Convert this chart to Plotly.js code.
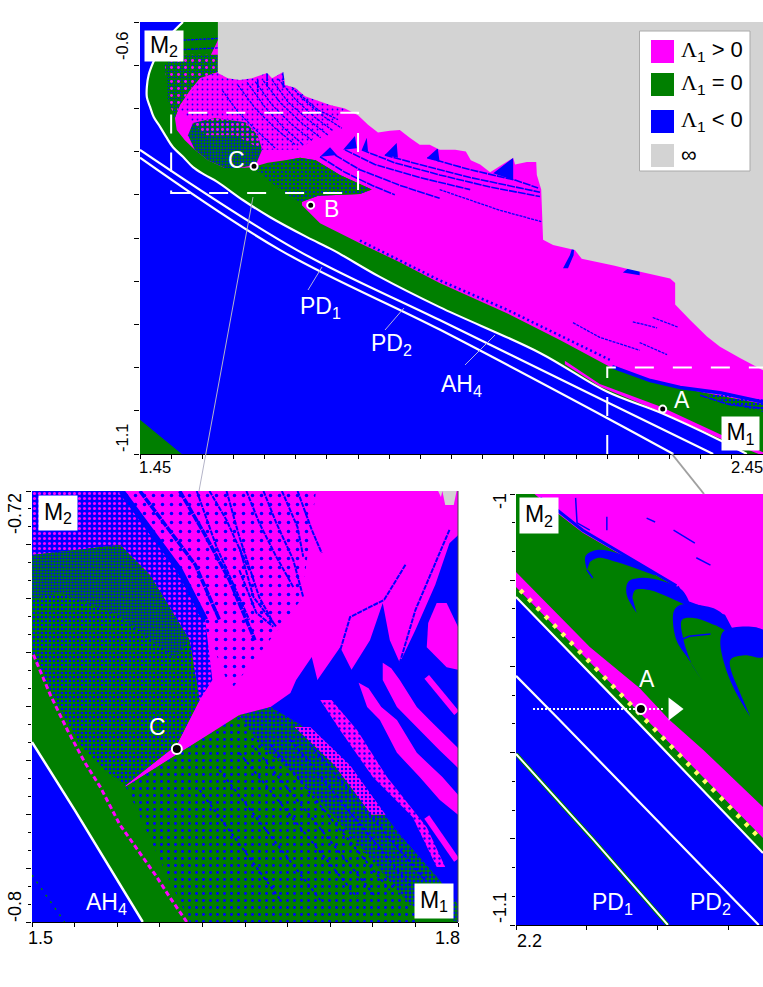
<!DOCTYPE html>
<html>
<head>
<meta charset="utf-8">
<script src="https://cdn.plot.ly/plotly-3.0.1.min.js"></script>
<style>body{margin:0;background:#fff}</style>
</head>
<body>
<div id="plot_window" style="width:763px;height:987px"></div>
<script>
const MAGENTA = '#ff00ff', GREEN = '#007f00', BLUE = '#0000ff', GREY = '#d3d3d3', WHITE = '#ffffff', CLEAR = 'rgba(0,0,0,0)';

// ---- top panel, M1 against M2, boundaries ----
const ah4TopX = [1.519,1.501,1.490,1.479,1.471,1.464,1.461,1.461,1.466,1.472,1.482,1.492,1.503,1.519,1.535,1.554,1.574,1.615,1.659,1.718,1.760,1.835,1.931,2.092,2.200,2.285,2.381,2.424];
const ah4TopY = [-0.6,-0.613,-0.623,-0.635,-0.647,-0.661,-0.675,-0.687,-0.698,-0.710,-0.721,-0.733,-0.745,-0.756,-0.768,-0.777,-0.785,-0.806,-0.826,-0.849,-0.864,-0.895,-0.930,-0.983,-1.028,-1.052,-1.084,-1.1];
const pd2TopX = [1.45,1.702,1.931,2.2,2.370];
const pd2TopY = [-0.748,-0.864,-0.945,-1.040,-1.1];
const pd1TopX = [1.45,1.675,1.931,2.204,2.306];
const pd1TopY = [-0.757,-0.864,-0.956,-1.060,-1.1];
const cornerTopX = [1.45,1.517,1.45];
const cornerTopY = [-1.0605,-1.1,-1.1];
const infTopX = [1.575,1.575,1.591,1.610,1.630,1.646,1.654,1.662,1.680,1.683,1.699,1.715,1.731,1.755,1.779,1.800,1.816,1.832,1.851,1.867,1.883,1.899,1.915,1.931,1.956,1.973,1.981,1.996,2.012,2.049,2.052,2.071,2.086,2.087,2.094,2.097,2.113,2.148,2.159,2.188,2.212,2.228,2.252,2.277,2.301,2.309,2.309,2.333,2.360,2.381,2.413,2.45,2.45];
const infTopY = [-0.6,-0.659,-0.665,-0.667,-0.665,-0.661,-0.659,-0.665,-0.658,-0.673,-0.676,-0.686,-0.690,-0.696,-0.700,-0.708,-0.719,-0.728,-0.726,-0.725,-0.734,-0.742,-0.742,-0.748,-0.748,-0.750,-0.760,-0.765,-0.774,-0.757,-0.765,-0.762,-0.762,-0.777,-0.794,-0.852,-0.858,-0.864,-0.874,-0.878,-0.882,-0.885,-0.889,-0.893,-0.897,-0.902,-0.927,-0.945,-0.964,-0.976,-0.989,-1.003,-0.6];
const chaosTopX = [1.575,2.45,2.45,2.397,2.349,2.305,2.252,2.204,2.124,2.039,1.931,1.867,1.803,1.739,1.710,1.710,1.736,1.803,1.822,1.771,1.732,1.707,1.683,1.655,1.631,1.610,1.586,1.559,1.538,1.522,1.509,1.506,1.514,1.530,1.546];
const chaosTopY = [-0.621,-0.621,-1.042,-1.035,-1.028,-1.022,-1.010,-0.999,-0.968,-0.937,-0.902,-0.878,-0.856,-0.833,-0.812,-0.808,-0.801,-0.799,-0.794,-0.777,-0.760,-0.757,-0.760,-0.763,-0.768,-0.769,-0.769,-0.760,-0.748,-0.737,-0.725,-0.711,-0.696,-0.679,-0.665];
const sliverTopX = [2.132,2.188,2.285,2.381,2.45,2.45,2.381,2.285,2.188,2.132];
const sliverTopY = [-0.992,-1.019,-1.045,-1.077,-1.098,-1.102,-1.082,-1.051,-1.022,-0.996];
// speckled patches
const speckNearCX = [1.535,1.570,1.619,1.639,1.646,1.636,1.610,1.586,1.559,1.538,1.527];
const speckNearCY = [-0.717,-0.711,-0.716,-0.731,-0.748,-0.765,-0.769,-0.769,-0.760,-0.748,-0.731];
const speckNearCUpX = [1.535,1.570,1.619,1.639,1.646,1.603,1.555];
const speckNearCUpY = [-0.717,-0.711,-0.716,-0.731,-0.748,-0.731,-0.731];
const speckLeftX = [1.490,1.511,1.575,1.575,1.546,1.530,1.514,1.506,1.495];
const speckLeftY = [-0.650,-0.638,-0.638,-0.658,-0.665,-0.679,-0.696,-0.711,-0.690];
const speckChaosX = [1.546,1.575,1.680,1.715,1.779,1.755,1.707,1.646,1.639,1.619,1.570,1.535,1.514];
const speckChaosY = [-0.665,-0.658,-0.658,-0.686,-0.700,-0.719,-0.748,-0.748,-0.731,-0.716,-0.711,-0.717,-0.702];
const speckBelowCX = [1.631,1.683,1.707,1.732,1.771,1.822,1.803,1.736,1.710,1.699,1.659];
const speckBelowCY = [-0.768,-0.760,-0.757,-0.760,-0.777,-0.794,-0.799,-0.801,-0.808,-0.806,-0.785];
const speckFringeX = [2.349,2.45,2.45,2.397];
const speckFringeY = [-1.028,-1.037,-1.051,-1.042];
// blue periodic windows
const finsTopX = [1.755,1.739,1.766,null,1.795,1.776,1.798,null,1.862,1.843,1.864,null,1.928,1.911,1.931,null,2.049,2.017,2.049,null,1.814,1.806,1.816,null,2.148,2.140,2.129,2.137,2.146,null,2.252,2.225,2.252];
const finsTopY = [-0.745,-0.756,-0.754,null,-0.732,-0.748,-0.746,null,-0.740,-0.754,-0.757,null,-0.746,-0.757,-0.762,null,-0.757,-0.775,-0.783,null,-0.734,-0.748,-0.750,null,-0.852,-0.870,-0.885,-0.885,-0.870,null,-0.875,-0.890,-0.893];
const bandsTopX = [1.739,1.779,1.822,1.859,null,1.763,1.803,1.867,1.931,null,1.779,1.827,1.899,1.980,null,1.806,1.859,1.931,2.012,2.092,null,1.843,1.899,1.980,2.092,null,1.911,1.980,2.052,2.089,null,2.349,2.397,2.45,null,1.654,1.654,null,1.680,1.680,null,1.639,1.639];
const bandsTopY = [-0.756,-0.774,-0.789,-0.800,null,-0.754,-0.771,-0.789,-0.804,null,-0.748,-0.765,-0.780,-0.794,null,-0.748,-0.763,-0.777,-0.791,-0.802,null,-0.754,-0.765,-0.780,-0.797,null,-0.757,-0.771,-0.783,-0.792,null,-1.032,-1.043,-1.047,null,-0.659,-0.675,null,-0.658,-0.676,null,-0.667,-0.681];
const fringeTopX = [2.208,2.269,2.317,2.381,2.45];
const fringeTopY = [-0.999,-1.015,-1.023,-1.029,-1.040];
const edgeDotsTopX = [1.803,1.931,2.039,2.204];
const edgeDotsTopY = [-0.853,-0.899,-0.933,-0.991];
const streaksTopX = [1.582,1.607,1.639,1.667,null,1.607,1.635,1.667,1.699,null,1.635,1.662,1.694,1.726,null,1.662,1.688,1.720,1.752,null,1.681,1.710,1.742,1.774,null,1.707,1.736,1.768,null,1.622,1.650,1.680,1.712,null,1.648,1.676,1.708,1.740,null,1.672,1.700,1.730,1.760,null,1.519,1.575,null,1.519,1.575,null,1.931,2.028,2.094,null,2.145,2.188,2.252,null,2.241,2.280,null,2.273,2.313,null,2.252,2.296];
const streaksTopY = [-0.679,-0.704,-0.727,-0.746,null,-0.673,-0.700,-0.723,-0.742,null,-0.669,-0.696,-0.719,-0.737,null,-0.667,-0.693,-0.713,-0.731,null,-0.665,-0.688,-0.708,-0.723,null,-0.684,-0.702,-0.713,null,-0.670,-0.698,-0.722,-0.742,null,-0.668,-0.694,-0.716,-0.734,null,-0.666,-0.690,-0.710,-0.726,null,-0.621,-0.619,null,-0.632,-0.630,null,-0.794,-0.818,-0.831,null,-0.948,-0.965,-0.980,null,-0.947,-0.954,null,-0.942,-0.953,null,-0.971,-0.985];
const pointsTopX = [2.289,1.724,1.633];
const pointsTopY = [-1.048,-0.812,-0.767];

// ---- lower left panel ----
const ah4LeftX = [1.5,1.530,1.578];
const ah4LeftY = [-0.7666,-0.7792,-0.8];
const chaosLeftX = [1.566,1.604,1.642,1.668,1.8,1.8,1.5,1.5,1.562,1.583,1.611,1.618,1.602,1.566];
const chaosLeftY = [-0.7749,-0.7686,-0.7625,-0.7601,-0.7601,-0.72,-0.72,-0.7319,-0.73,-0.7356,-0.7477,-0.7588,-0.7671,-0.7746];
const windowLeftX = [1.668,1.682,1.686,1.697,1.701,1.717,1.725,1.738,1.747,1.752,1.759,1.770,1.784,1.794,1.8,1.8,1.787,1.759,1.724,1.689];
const windowLeftY = [-0.7601,-0.7575,-0.7551,-0.7508,-0.7551,-0.749,-0.7532,-0.7477,-0.7408,-0.7477,-0.7519,-0.7458,-0.7374,-0.7297,-0.7282,-0.7968,-0.7922,-0.7838,-0.7718,-0.7634];
const speckTopLeftX = [1.5,1.563,1.583,1.604,1.622,1.627,1.618,1.611,1.583,1.562,1.5];
const speckTopLeftY = [-0.72,-0.72,-0.7272,-0.7347,-0.7439,-0.7551,-0.7588,-0.7477,-0.7356,-0.73,-0.7319];
const speckMidLeftX = [1.5,1.562,1.583,1.611,1.618,1.602,1.566,1.551,1.534,1.520,1.5];
const speckMidLeftY = [-0.7319,-0.73,-0.7356,-0.7477,-0.7588,-0.7671,-0.7746,-0.7718,-0.7671,-0.7607,-0.7504];
const denseMidLeftX = [1.5,1.562,1.583,1.611,1.600,1.560,1.520,1.5];
const denseMidLeftY = [-0.7319,-0.73,-0.7356,-0.7477,-0.7510,-0.7430,-0.7390,-0.7400];
const speckLowLeftX = [1.566,1.604,1.646,1.660,1.689,1.724,1.766,1.773,1.611,1.590,1.573];
const speckLowLeftY = [-0.7749,-0.7686,-0.7616,-0.7671,-0.7736,-0.7838,-0.7968,-0.8,-0.8,-0.7885,-0.7786];
const speckBandLeftX = [1.646,1.668,1.689,1.724,1.759,1.787,1.8,1.8,1.766,1.724,1.689,1.660];
const speckBandLeftY = [-0.7616,-0.7601,-0.7634,-0.7718,-0.7838,-0.7922,-0.7968,-0.8,-0.7968,-0.7838,-0.7736,-0.7671];
const sparseUpperLeftX = [1.563,1.700,1.690,1.640,1.620];
const sparseUpperLeftY = [-0.72,-0.72,-0.7400,-0.7570,-0.7440];
const edgeLeftX = [1.501,1.513,1.525,1.537,1.548,1.562,1.576,1.587,1.597,1.609];
const edgeLeftY = [-0.7504,-0.7579,-0.7644,-0.7703,-0.7749,-0.782,-0.7872,-0.7913,-0.7954,-0.8];
const stripesWideX = [1.563,1.583,1.604,1.622];
const stripesWideY = [-0.72,-0.7272,-0.7347,-0.7439];
const stripesMidX = [1.576,1.594,1.615,1.632,null,1.604,1.622,1.639,1.657];
const stripesMidY = [-0.72,-0.7263,-0.7337,-0.7439,null,-0.72,-0.7282,-0.7365,-0.7477];
const stripesThinX = [1.616,1.630,1.653,null,1.625,1.637,1.653,null,1.637,1.646,1.660,1.670,null,1.651,1.660,1.672,1.684,null,1.663,1.672,1.684,1.691,null,1.676,1.687,1.691,null,1.687,1.697,1.704,null,1.646,1.656,1.672,null,1.646,1.658,1.670,null,1.794,1.770,1.759,null,1.763,1.748,1.724,1.715];
const stripesThinY = [-0.72,-0.7304,-0.7439,null,-0.72,-0.7254,-0.7347,null,-0.72,-0.7285,-0.7397,-0.7445,null,-0.72,-0.7259,-0.7322,-0.7378,null,-0.72,-0.7259,-0.7328,-0.7397,null,-0.72,-0.7267,-0.7322,null,-0.72,-0.7272,-0.7315,null,-0.7304,-0.7397,-0.7452,null,-0.7347,-0.7426,-0.7452,null,-0.7272,-0.7421,-0.7519,null,-0.7337,-0.7402,-0.7434,-0.7514];
const rowsLeftX = [1.646,1.729,null,1.632,1.703,null,1.668,1.752,null,1.682,1.766,null,1.696,1.777,null,1.657,1.741,null,1.618,1.675];
const rowsLeftY = [-0.7686,-0.7954,null,-0.7718,-0.7959,null,-0.7671,-0.7941,null,-0.7662,-0.7931,null,-0.7671,-0.7922,null,-0.7677,-0.795,null,-0.7755,-0.7959];
const bandOneX = [1.730,1.737,1.746,1.757,1.771,1.789,1.8,1.8,1.787,1.773,1.757,1.745,1.736];
const bandOneY = [-0.7556,-0.7566,-0.7601,-0.7625,-0.7686,-0.7731,-0.7764,-0.7801,-0.7773,-0.7731,-0.7686,-0.7625,-0.7601];
const bandTwoX = [1.747,1.753,1.759,1.771,1.780,1.8,1.8,1.787,1.766,1.757,1.747];
const bandTwoY = [-0.7519,-0.7529,-0.7551,-0.7601,-0.7625,-0.7677,-0.7714,-0.7681,-0.7625,-0.7601,-0.7551];
const islandLeftX = [1.785,1.792,1.8,1.8,1.792,1.778,1.779];
const islandLeftY = [-0.7408,-0.7408,-0.7452,-0.7532,-0.7527,-0.749,-0.7445];
const bandThreeX = [1.703,1.717,1.740,1.768,1.785,1.791,1.778,1.750,1.729,1.711];
const bandThreeY = [-0.7588,-0.7644,-0.7731,-0.7805,-0.7898,-0.7898,-0.7824,-0.7731,-0.7644,-0.7588];
const bandFourX = [1.685,1.713,1.739,1.749,1.724,1.696];
const bandFourY = [-0.7638,-0.7709,-0.7801,-0.7801,-0.7709,-0.7638];
const thinBandsX = [1.778,1.799,null,1.778,1.799];
const thinBandsY = [-0.7805,-0.7885,null,-0.7545,-0.7612];
const infLeftX = [1.786,1.788,1.789,1.791,1.793,1.797,1.799];
const infLeftY = [-0.72,-0.7211,-0.72,-0.7226,-0.7226,-0.7226,-0.72];
const dotsBlueLeftX = [1.5,1.523];
const dotsBlueLeftY = [-0.7913,-0.8];
const pointLeftX = [1.602];
const pointLeftY = [-0.7679];

// ---- lower right panel ----
const ah4RightX = [2.2,2.285,2.374];
const ah4RightY = [-1.0239,-1.0527,-1.0833];
const pd2RightX = [2.2,2.230,2.371];
const pd2RightY = [-1.0422,-1.0522,-1.1];
const pd1RightX = [2.2,2.254,2.307];
const pd1RightY = [-1.0603,-1.08,-1.1];
const yellowRightX = [2.203,2.287,2.373];
const yellowRightY = [-1.0223,-1.0508,-1.0803];
const chaosRightX = [2.213,2.374,2.374,2.351,2.346,2.320,2.313,2.292,2.268,2.247,2.229];
const chaosRightY = [-1,-1,-1.032,-1.0316,-1.0285,-1.0253,-1.0216,-1.0176,-1.013,-1.009,-1.0044];
const stripRightX = [2.2,2.252,2.287,2.308,2.332,2.374,2.374,2.2];
const stripRightY = [-1.0181,-1.0355,-1.0450,-1.0524,-1.0594,-1.0726,-1.0798,-1.0216];
const crescentsRightX = [2.250,2.249,2.257,2.271,2.287,2.298,2.287,2.271,2.258,2.252,null,2.285,2.278,2.279,2.287,2.301,2.317,2.322,2.308,2.294,2.284,2.282,null,2.332,2.322,2.313,2.311,2.315,2.330,2.344,2.351,2.340,2.326,2.317,2.318,2.324,null,2.365,2.354,2.347,2.344,2.347,2.374,2.374,2.361,2.351,2.354];
const crescentsRightY = [-1.0176,-1.0144,-1.013,-1.0137,-1.016,-1.0188,-1.0176,-1.0158,-1.0148,-1.0158,null,-1.0276,-1.0234,-1.0204,-1.0195,-1.02,-1.0223,-1.0258,-1.024,-1.0223,-1.0223,-1.0241,null,-1.0438,-1.0385,-1.0339,-1.0274,-1.0258,-1.0258,-1.0274,-1.032,-1.0304,-1.0288,-1.0292,-1.0339,-1.0397,null,-1.0517,-1.0455,-1.0397,-1.0339,-1.0316,-1.0316,-1.0378,-1.0374,-1.0385,-1.0432];
const streaksRightX = [2.242,2.243,2.252,null,2.264,2.264,null,2.292,2.298,null,2.311,2.326,null,2.327,2.337,null,2.315,2.322,2.337,null,2.250,2.254];
const streaksRightY = [-1.0009,-1.0067,-1.0084,null,-1.0053,-1.0084,null,-1.0056,-1.0065,null,-1.0084,-1.0114,null,-1.0148,-1.0165,null,-1.034,-1.033,-1.0325,null,-1.0176,-1.0195];
const boundaryRightX = [2.217,2.229,2.247,2.268,2.292,2.313];
const boundaryRightY = [-1.0009,-1.0037,-1.0084,-1.0125,-1.0172,-1.0213];
const boundaryLowX = [2.313,2.320,2.346,2.351,2.374];
const boundaryLowY = [-1.0216,-1.0253,-1.0285,-1.0316,-1.032];
const arrowRightX = [2.212,2.3035];
const arrowRightY = [-1.0499,-1.0499];
const arrowHeadX = [2.311];
const arrowHeadY = [-1.0499];
const pointRightX = [2.288];
const pointRightY = [-1.0499];

// ---- dashed zoom frames ----
const frameLeftX = [1.5,1.8];
const frameLeftY = [-0.798,-0.705];
const frameRightX = [2.2,2.45];
const frameRightY = [-1.1,-1];

// ---- legend and tick labels ----
const legendLabels = ['> 0','= 0','< 0'];
const legendColors = [MAGENTA, GREEN, BLUE, GREY];
const tickLabelsTop = ['1.45','2.45','-0.6','-1.1'];
const tickLabelsLeft = ['1.5','1.8','-0.72','-0.8'];
const tickLabelsRight = ['2.2','-1','-1.1'];

const FONT = 'Liberation Sans, Arial, sans-serif';
const pageX = px => px / 763;
const pageY = py => 1 - py / 987;

function poly(xa, ya, x, y, color, shape){
    return {x: x, y: y, xaxis: xa, yaxis: ya, type: 'scatter', mode: 'lines', fill: 'toself',
            fillcolor: color, line: {width: 0, shape: shape || 'linear'}, hoverinfo: 'skip'};
}

function speck(xa, ya, x, y, bg, fg, size, solidity){
    return {x: x, y: y, xaxis: xa, yaxis: ya, type: 'scatter', mode: 'lines', fill: 'toself',
            fillcolor: bg, line: {width: 0}, hoverinfo: 'skip',
            fillpattern: {shape: '.', bgcolor: bg, fgcolor: fg, fgopacity: 1, size: size, solidity: solidity}};
}

function curve(xa, ya, x, y, color, width, dash, shape){
    return {x: x, y: y, xaxis: xa, yaxis: ya, type: 'scatter', mode: 'lines',
            line: {color: color, width: width, dash: dash || 'solid', shape: shape || 'linear'}, hoverinfo: 'skip'};
}

function points(xa, ya, x, y, size){
    return {x: x, y: y, xaxis: xa, yaxis: ya, type: 'scatter', mode: 'markers', hoverinfo: 'skip',
            marker: {color: '#000000', size: size, line: {color: WHITE, width: 2}}};
}

const traces = [
    // top
    poly('x','y', ah4TopX.concat([2.45,2.45]), ah4TopY.concat([-1.1,-0.6]), GREEN),
    poly('x','y', cornerTopX, cornerTopY, GREEN),
    poly('x','y', chaosTopX, chaosTopY, MAGENTA),
    speck('x','y', speckChaosX, speckChaosY, MAGENTA, BLUE, 5, 0.1),
    speck('x','y', speckNearCX, speckNearCY, GREEN, BLUE, 3, 0.33),
    speck('x','y', speckNearCUpX, speckNearCUpY, CLEAR, MAGENTA, 5, 0.28),
    speck('x','y', speckLeftX, speckLeftY, GREEN, BLUE, 3, 0.2),
    speck('x','y', speckLeftX, speckLeftY, CLEAR, MAGENTA, 7, 0.14),
    speck('x','y', speckBelowCX, speckBelowCY, GREEN, BLUE, 4, 0.18),
    speck('x','y', speckFringeX, speckFringeY, CLEAR, BLUE, 4, 0.3),
    curve('x','y', streaksTopX, streaksTopY, BLUE, 1.3, '3px,1px'),
    curve('x','y', edgeDotsTopX, edgeDotsTopY, BLUE, 2.5, '2px,3px'),
    curve('x','y', fringeTopX, fringeTopY, BLUE, 3.5),
    curve('x','y', bandsTopX, bandsTopY, BLUE, 1.6, '8px,1px'),
    poly('x','y', finsTopX, finsTopY, BLUE),
    poly('x','y', infTopX, infTopY, GREY),
    poly('x','y', sliverTopX, sliverTopY, MAGENTA),
    curve('x','y', ah4TopX, ah4TopY, WHITE, 2.2, 'solid', 'spline'),
    curve('x','y', pd2TopX, pd2TopY, WHITE, 2.2, 'solid', 'spline'),
    curve('x','y', pd1TopX, pd1TopY, WHITE, 2.2, 'solid', 'spline'),
    points('x','y', pointsTopX, pointsTopY, 7),

    // lower left
    poly('x2','y2', ah4LeftX.concat([1.8,1.8,1.5]), ah4LeftY.concat([-0.8,-0.72,-0.72]), GREEN),
    poly('x2','y2', chaosLeftX, chaosLeftY, MAGENTA),
    speck('x2','y2', speckTopLeftX, speckTopLeftY, BLUE, MAGENTA, 5, 0.3),
    speck('x2','y2', speckMidLeftX, speckMidLeftY, GREEN, BLUE, 4, 0.3),
    speck('x2','y2', denseMidLeftX, denseMidLeftY, GREEN, BLUE, 3, 0.42),
    speck('x2','y2', speckLowLeftX, speckLowLeftY, GREEN, BLUE, 7, 0.14),
    speck('x2','y2', speckBandLeftX, speckBandLeftY, GREEN, BLUE, 4, 0.42),
    speck('x2','y2', sparseUpperLeftX, sparseUpperLeftY, CLEAR, BLUE, 9, 0.12),
    curve('x2','y2', rowsLeftX, rowsLeftY, BLUE, 2, '3px,3px'),
    poly('x2','y2', windowLeftX, windowLeftY, BLUE),
    poly('x2','y2', bandOneX, bandOneY, MAGENTA),
    poly('x2','y2', bandTwoX, bandTwoY, MAGENTA),
    poly('x2','y2', islandLeftX, islandLeftY, MAGENTA),
    curve('x2','y2', thinBandsX, thinBandsY, MAGENTA, 6),
    speck('x2','y2', bandThreeX, bandThreeY, MAGENTA, BLUE, 5, 0.18),
    speck('x2','y2', bandFourX, bandFourY, MAGENTA, BLUE, 4, 0.3),
    curve('x2','y2', stripesWideX, stripesWideY, BLUE, 6),
    curve('x2','y2', stripesMidX, stripesMidY, BLUE, 3.5, '8px,1px'),
    curve('x2','y2', stripesThinX, stripesThinY, BLUE, 2, '5px,1px'),
    curve('x2','y2', edgeLeftX, edgeLeftY, MAGENTA, 3, '5px,3px'),
    curve('x2','y2', dotsBlueLeftX, dotsBlueLeftY, GREEN, 1.5, '2px,6px'),
    poly('x2','y2', infLeftX, infLeftY, GREY),
    curve('x2','y2', ah4LeftX, ah4LeftY, WHITE, 2.5),
    points('x2','y2', pointLeftX, pointLeftY, 10),

    // lower right
    poly('x3','y3', ah4RightX.concat([2.374,2.2]), ah4RightY.concat([-1,-1]), GREEN),
    poly('x3','y3', stripRightX, stripRightY, MAGENTA),
    poly('x3','y3', chaosRightX, chaosRightY, MAGENTA),
    poly('x3','y3', crescentsRightX, crescentsRightY, BLUE, 'spline'),
    curve('x3','y3', boundaryRightX, boundaryRightY, BLUE, 3),
    curve('x3','y3', boundaryLowX, boundaryLowY, BLUE, 5),
    curve('x3','y3', streaksRightX, streaksRightY, BLUE, 1.5),
    curve('x3','y3', yellowRightX, yellowRightY, '#ffff66', 4.5, '4px,8px'),
    curve('x3','y3', pd1RightX, pd1RightY, GREEN, 4),
    curve('x3','y3', pd1RightX, pd1RightY, WHITE, 2),
    curve('x3','y3', pd2RightX, pd2RightY, WHITE, 2.2),
    curve('x3','y3', ah4RightX, ah4RightY, WHITE, 2.2),
    curve('x3','y3', arrowRightX, arrowRightY, WHITE, 2, '2px,2px'),
    {x: arrowHeadX, y: arrowHeadY, xaxis: 'x3', yaxis: 'y3', type: 'scatter', mode: 'markers', hoverinfo: 'skip',
     marker: {symbol: 'triangle-right', color: WHITE, size: 20}},
    points('x3','y3', pointRightX, pointRightY, 10)
];

function xAxisOf(anchor, left, right, range, dtick){
    return {anchor: anchor, domain: [pageX(left), pageX(right)], range: range, dtick: dtick, tick0: range[0], ticks: 'outside', ticklen: 4,
            tickcolor: '#000', showline: true, linecolor: '#000', linewidth: 1, showgrid: false, zeroline: false, showticklabels: false};
}

function yAxisOf(anchor, top, bottom, range, dtick, minorStep){
    const axis = {anchor: anchor, domain: [pageY(bottom), pageY(top)], range: range, dtick: dtick, tick0: range[0], ticks: 'outside', ticklen: 5,
                  tickcolor: '#000', showline: false, showgrid: false, zeroline: false, showticklabels: false};
    if (minorStep){
        axis.minor = {dtick: minorStep, tick0: range[0], ticks: 'outside', ticklen: 3, tickcolor: '#000', showgrid: false};
    }
    return axis;
}

function note(text, px, py, size, color, extra){
    return Object.assign({text: text, xref: 'paper', yref: 'paper', x: pageX(px), y: pageY(py), showarrow: false,
                          xanchor: 'center', yanchor: 'middle', font: {family: FONT, size: size, color: color}}, extra || {});
}

function box(text, left, top, right, bottom){
    return note(text, left, top, 23, '#000', {xanchor: 'left', yanchor: 'top', bgcolor: WHITE, borderpad: 0,
                width: right - left, height: bottom - top});
}

function lineShape(x0, y0, x1, y1, color, width){
    return {type: 'line', xref: 'paper', yref: 'paper', x0: pageX(x0), y0: pageY(y0), x1: pageX(x1), y1: pageY(y1),
            line: {color: color, width: width}};
}

const annotations = [
    box('M<sub>2</sub>', 144, 30, 182, 60),
    box('M<sub>1</sub>', 721, 416, 758, 449),
    box('M<sub>2</sub>', 38, 495, 76, 529),
    box('M<sub>1</sub>', 414, 883, 452, 917),
    box('M<sub>2</sub>', 519, 497, 557, 532),
    note('C', 236, 160, 23, WHITE),
    note('B', 331, 209, 23, WHITE),
    note('A', 682, 400, 23, WHITE),
    note('PD<sub>1</sub>', 320, 307, 23, WHITE),
    note('PD<sub>2</sub>', 391, 344, 23, WHITE),
    note('AH<sub>4</sub>', 461, 386, 23, WHITE),
    note('C', 157, 727, 23, WHITE),
    note('AH<sub>4</sub>', 106, 903, 23, WHITE),
    note('A', 647, 679, 23, WHITE),
    note('PD<sub>1</sub>', 612, 903, 23, WHITE),
    note('PD<sub>2</sub>', 710, 903, 23, WHITE),
    note(tickLabelsTop[0], 155, 467, 16.5, '#000'),
    note(tickLabelsTop[1], 747, 467, 16.5, '#000'),
    note(tickLabelsTop[2], 122, 46, 16.5, '#000', {textangle: -90}),
    note(tickLabelsTop[3], 122, 438, 16.5, '#000', {textangle: -90}),
    note(tickLabelsLeft[0], 40, 938, 18, '#000'),
    note(tickLabelsLeft[1], 447, 938, 18, '#000'),
    note(tickLabelsLeft[2], 15, 514, 18, '#000', {textangle: -90}),
    note(tickLabelsLeft[3], 15, 907, 18, '#000', {textangle: -90}),
    note(tickLabelsRight[0], 529, 941, 18, '#000'),
    note(tickLabelsRight[1], 500, 501, 18, '#000', {textangle: -90}),
    note(tickLabelsRight[2], 500, 908, 18, '#000', {textangle: -90})
];

const legendRows = [40, 73, 110, 144];
const shapes = [
    {type: 'rect', xref: 'x', yref: 'y', x0: frameLeftX[0], x1: frameLeftX[1], y0: frameLeftY[0], y1: frameLeftY[1],
     line: {color: WHITE, width: 2, dash: '19px,19px'}},
    {type: 'path', xref: 'x', yref: 'y', path: `M${frameRightX[0]},${frameRightY[0]} L${frameRightX[0]},${frameRightY[1]} L${frameRightX[1]},${frameRightY[1]}`,
     line: {color: WHITE, width: 2, dash: '19px,19px'}},
    lineShape(253, 197, 199, 491, '#b4b4c8', 1),
    lineShape(672, 454, 704, 494, '#a0a0a0', 2),
    lineShape(322, 267, 308, 290, '#b4b4e0', 1),
    lineShape(404, 308, 385, 330, '#b4b4e0', 1),
    lineShape(495, 335, 465, 365, '#b4b4e0', 1),
    lineShape(458, 491, 458, 922, '#444444', 1),
    {type: 'rect', xref: 'paper', yref: 'paper', x0: pageX(639.5), x1: pageX(750), y0: pageY(31), y1: pageY(171),
     fillcolor: WHITE, line: {color: '#aaaaaa', width: 1}}
];

legendRows.forEach((top, i) => {
    shapes.push({type: 'rect', xref: 'paper', yref: 'paper', x0: pageX(651), x1: pageX(674), y0: pageY(top), y1: pageY(top + 23),
                 fillcolor: legendColors[i], line: {width: 0}});
    const text = i < 3 ? '<span style="font-family:Liberation Serif">Λ</span><sub>1</sub> ' + legendLabels[i] : '∞';
    annotations.push(note(text, 679, top + 11, 22, '#000', {xanchor: 'left'}));
});

const layout = {
    width: 763,
    height: 987,
    autosize: false,
    margin: {l: 0, r: 0, t: 0, b: 0},
    paper_bgcolor: WHITE,
    plot_bgcolor: BLUE,
    showlegend: false,
    hovermode: false,
    xaxis: xAxisOf('y', 140, 763, [1.45, 2.45], 0.05),
    yaxis: yAxisOf('x', 22, 454, [-1.1, -0.6], 0.05),
    xaxis2: xAxisOf('y2', 32, 458, [1.5, 1.8], 0.03),
    yaxis2: yAxisOf('x2', 491, 922, [-0.8, -0.72], 0.01, 0.08 / 24),
    xaxis3: xAxisOf('y3', 516, 763, [2.2, 2.374], 0.05),
    yaxis3: yAxisOf('x3', 494, 925, [-1.1, -1], 0.02, 0.1 / 15),
    annotations: annotations,
    shapes: shapes
};

Plotly.newPlot('plot_window', traces, layout, {displayModeBar: false, responsive: false});
</script>
</body>
</html>
